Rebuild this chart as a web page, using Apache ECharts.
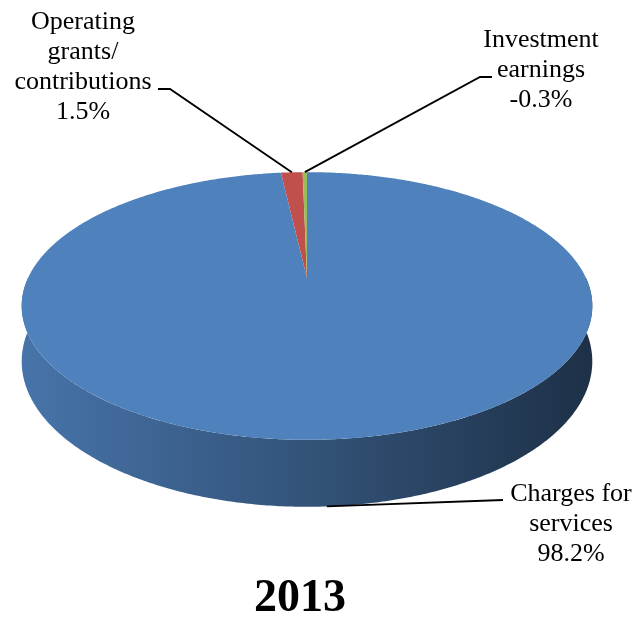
<!DOCTYPE html>
<html>
<head>
<meta charset="utf-8">
<script src="https://cdn.jsdelivr.net/npm/echarts@6/dist/echarts.min.js"></script>
<style>
  html, body { margin: 0; padding: 0; background: #ffffff; }
  #chart { width: 639px; height: 621px; }
</style>
</head>
<body>
<div id="chart"></div>
<script>
// Revenue sources, 2013 (percent of total)
const categories = ['Charges for\nservices', 'Operating\ngrants/\ncontributions', 'Investment\nearnings'];
const shares = [98.2, 1.5, -0.3];
const sliceColors = ['#4F81BD', '#C0504D', '#9BBB59'];
const yearTitle = '2013';

// Tilted-disc geometry (screen pixels)
const geo = { cx: 307, cy: 278, rx: 279, ry: 128, persp: -0.209, depth: 53 };

// Callout placement for each slice label
const calloutLayout = [
  { bend: null,       end: [503, 500], text: [571, 524] },
  { bend: [170, 89],  end: [158, 89],  text: [83, 67] },
  { bend: [480, 77],  end: [492, 77],  text: [541, 70] }
];

const FONT = '"Liberation Serif", "Times New Roman", serif';

function project(phi, drop) {
  const X = Math.sin(phi), Z = -Math.cos(phi);
  const s = 1 / (1 + geo.persp * Z);
  return [geo.cx + geo.rx * X * s, geo.cy + geo.ry * Z * s + drop * s];
}

function arc(a0, a1, drop) {
  const n = Math.max(2, Math.ceil((a1 - a0) / (Math.PI / 360)));
  const pts = [];
  for (let k = 0; k <= n; k++) pts.push(project(a0 + (a1 - a0) * k / n, drop));
  return pts;
}

function sliceAngles(i) {
  const mags = shares.map(Math.abs);
  const total = mags.reduce((a, b) => a + b, 0);
  let before = 0;
  for (let k = 0; k < i; k++) before += mags[k];
  const a0 = before / total * Math.PI * 2;
  return [a0, a0 + mags[i] / total * Math.PI * 2];
}

function shade(hex, f) {
  const n = parseInt(hex.slice(1), 16);
  const r = Math.round(((n >> 16) & 255) * f);
  const g = Math.round(((n >> 8) & 255) * f);
  const b = Math.round((n & 255) * f);
  return 'rgb(' + r + ',' + g + ',' + b + ')';
}

function renderSide(params, api) {
  const i = params.dataIndex;
  const [a0, a1] = sliceAngles(i);
  const lo = Math.max(a0, Math.PI / 2), hi = Math.min(a1, Math.PI * 1.5);
  if (hi <= lo) return null;
  const pts = arc(lo, hi, 0).concat(arc(lo, hi, geo.depth).reverse());
  const c = sliceColors[i];
  return {
    type: 'polygon',
    shape: { points: pts },
    style: {
      fill: {
        type: 'linear', global: true,
        x: geo.cx - geo.rx * 1.03, y: 0, x2: geo.cx + geo.rx * 1.03, y2: 0,
        colorStops: [
          { offset: 0, color: shade(c, 0.9) },
          { offset: 0.5, color: shade(c, 0.64) },
          { offset: 1, color: shade(c, 0.37) }
        ]
      }
    }
  };
}

function renderTop(params, api) {
  const i = params.dataIndex;
  const [a0, a1] = sliceAngles(i);
  const pts = [[geo.cx, geo.cy]].concat(arc(a0, a1, 0));
  return {
    type: 'polygon',
    shape: { points: pts },
    style: { fill: sliceColors[i] }
  };
}

function renderLabel(params, api) {
  const i = params.dataIndex;
  const v = api.value(0);
  const [a0, a1] = sliceAngles(i);
  const mid = (a0 + a1) / 2;
  const front = -Math.cos(mid) > 0.3;
  const anchor = project(mid, front ? geo.depth : 0);
  const lay = calloutLayout[i];
  const pts = [anchor];
  if (lay.bend) pts.push(lay.bend);
  pts.push(lay.end);
  return {
    type: 'group',
    children: [
      {
        type: 'polyline',
        shape: { points: pts },
        style: { stroke: '#000000', lineWidth: 1.8, fill: null }
      },
      {
        type: 'text',
        x: lay.text[0], y: lay.text[1],
        style: {
          text: categories[i] + '\n' + v.toFixed(1) + '%',
          fill: '#000000',
          font: '26px ' + FONT,
          lineHeight: 30,
          align: 'center',
          verticalAlign: 'middle'
        }
      }
    ]
  };
}

const chart = echarts.init(document.getElementById('chart'), null, { renderer: 'canvas' });
chart.setOption({
  animation: false,
  backgroundColor: '#ffffff',
  series: [
    { type: 'custom', coordinateSystem: 'none', z: 1, data: shares, renderItem: renderSide, silent: true },
    { type: 'custom', coordinateSystem: 'none', z: 2, data: shares, renderItem: renderTop, silent: true },
    { type: 'custom', coordinateSystem: 'none', z: 3, data: shares, renderItem: renderLabel, silent: true }
  ],
  graphic: [
    {
      type: 'text',
      x: 300, y: 599,
      style: {
        text: yearTitle,
        fill: '#000000',
        font: 'bold 46px ' + FONT,
        align: 'center',
        verticalAlign: 'middle'
      }
    }
  ]
});
</script>
</body>
</html>
